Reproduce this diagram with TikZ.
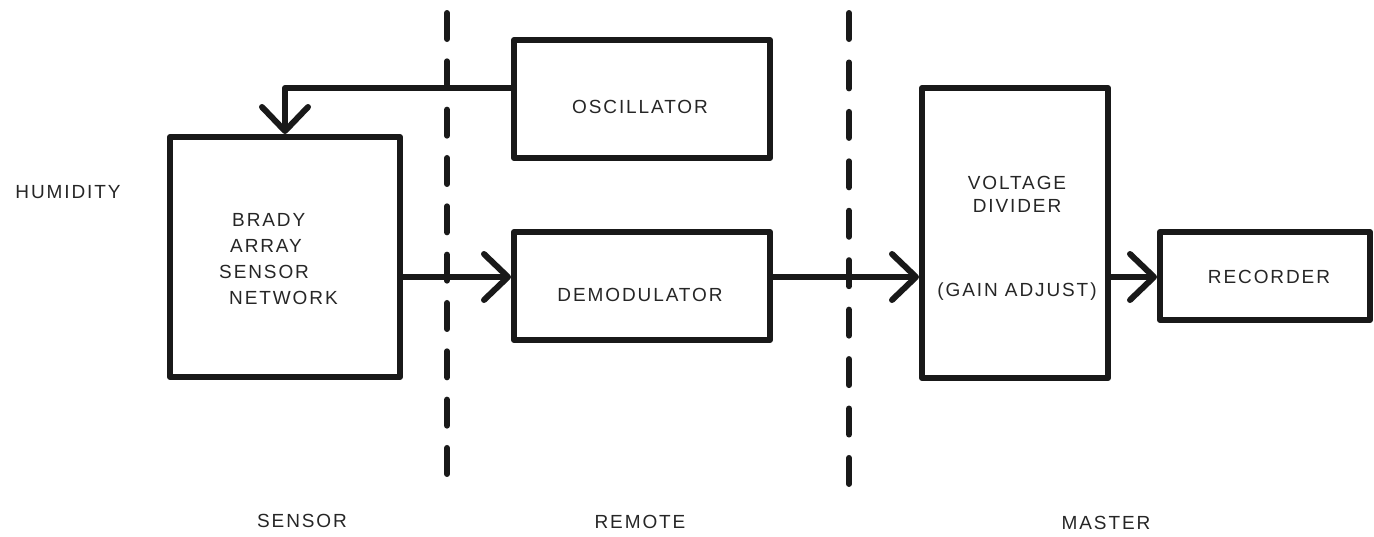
\documentclass[tikz,border=0pt]{standalone}
\usepackage{fontspec}
\setmainfont{Liberation Sans}[LetterSpace=10]
\usetikzlibrary{arrows.meta}
\begin{document}
\begin{tikzpicture}[x=1pt,y=-1pt,
  box/.style={draw=black!90, line width=6pt, line join=round, minimum width=#1, inner sep=0pt},
  lbl/.style={font=\fontsize{19}{26}\selectfont, text=black!85, inner sep=0pt, align=center},
  arr/.style={line width=6pt, black!90, -{Straight Barb[length=24pt,width=46pt,line cap=round,line join=round]}},
  sep/.style={line width=6pt, black!90, line cap=round}
]
\useasboundingbox (0,0) rectangle (1374,536);
% boxes
\node[box=230pt, minimum height=240pt] (brady) at (285,257) {};
\node[box=256pt, minimum height=118pt] (osc) at (642,99) {};
\node[box=256pt, minimum height=108pt] (demod) at (642,286) {};
\node[box=186pt, minimum height=290pt] (vd) at (1015,233) {};
\node[box=210pt, minimum height=88pt] (rec) at (1265,276) {};
% texts
\node[lbl] (osct) at (640,107) {OSCILLATOR};
\node[lbl] (demt) at (640,295) {DEMODULATOR};
\node[lbl, anchor=west, align=left] (bradyt) at (219,259)
  {\hspace{13pt}BRADY\\\hspace{11pt}ARRAY\\SENSOR\\\hspace{10pt}NETWORK};
\node[lbl, font=\fontsize{19}{23}\selectfont] (vdt) at (1017,194) {VOLTAGE\\DIVIDER};
\node[lbl] (gain) at (1017,292) {(GAIN ADJUST)};
\node[lbl] (rect) at (1269,277) {RECORDER};
\node[lbl] (hum) at (68,192) {HUMIDITY};
\node[lbl] (sens) at (302,521) {SENSOR};
\node[lbl] (remo) at (640,522) {REMOTE};
\node[lbl] (mast) at (1106,523) {MASTER};
% separators
\coordinate (s1t) at (447,13);
\coordinate (s1b) at (447,474);
\coordinate (s2t) at (849,13);
\coordinate (s2b) at (849,484);
\draw[sep, dash pattern=on 26pt off 22.33pt] (s1t) -- (s1b);
\draw[sep, dash pattern=on 26pt off 23.44pt] (s2t) -- (s2b);
% connectors
\draw[arr, line join=round] ([yshift=11pt]osc.west) -| (brady.north);
\draw[arr] (brady.east |- 0,277) -- (demod.west |- 0,277);
\draw[arr] (demod.east |- 0,277) -- (vd.west |- 0,277);
\draw[arr] (vd.east |- 0,277) -- (rec.west |- 0,277);
\end{tikzpicture}
\end{document}
